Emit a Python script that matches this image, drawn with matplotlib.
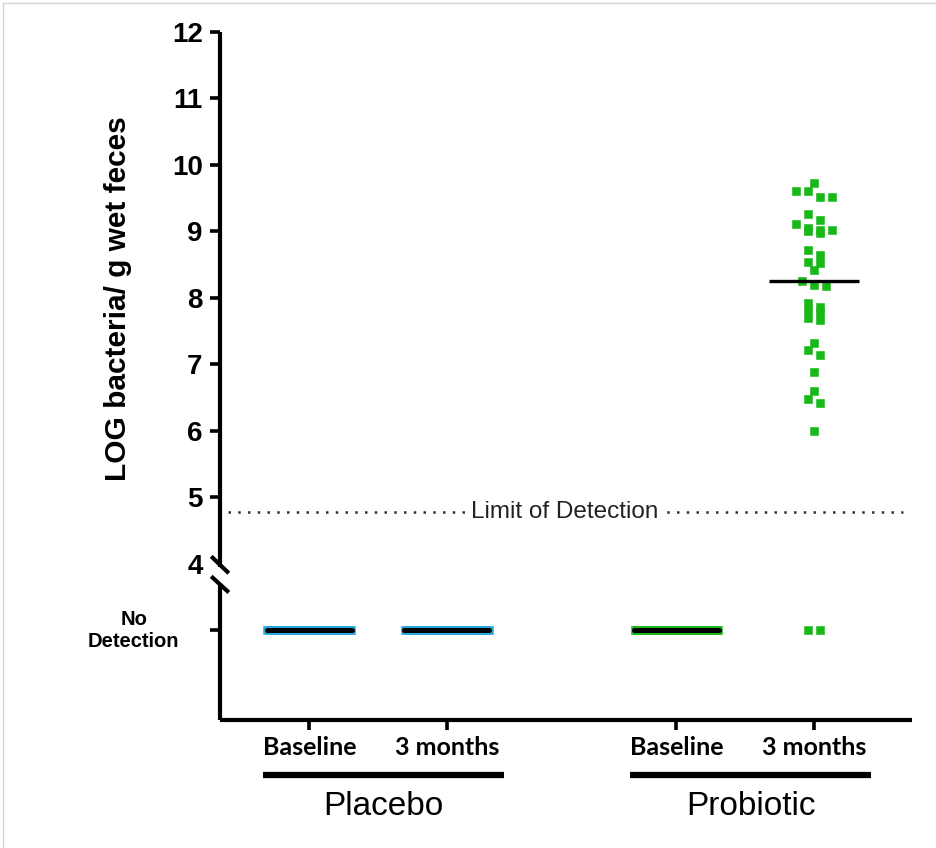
import numpy as np
import matplotlib
matplotlib.use("Agg")
import matplotlib.pyplot as plt
import matplotlib.transforms as mtransforms
from matplotlib.lines import Line2D

plt.rcParams["font.family"] = ["Liberation Sans", "DejaVu Sans"]

# ---------------------------------------------------------------- data
groups = ["Placebo", "Probiotic"]
timepoints = ["Baseline", "3 months"]

# LOG bacteria per g wet feces for each subject; None = not detected
placebo_baseline = [None] * 36
placebo_3months = [None] * 36
probiotic_baseline = [None] * 37
probiotic_3months = [
    9.73, 9.61, 9.61, 9.52, 9.52, 9.26, 9.17, 9.11, 9.05, 9.02, 9.02, 9.01,
    8.98, 8.72, 8.65, 8.54, 8.53, 8.42, 8.26, 8.20, 8.18,
    7.92, 7.86, 7.82, 7.77, 7.70, 7.67,
    7.32, 7.22, 7.14, 6.89, 6.60, 6.48, 6.42, 6.00,
    None, None,
]
limit_of_detection = 4.78
ytick_values = [4, 5, 6, 7, 8, 9, 10, 11, 12]
nd_label = "No\nDetection"
lod_label = "Limit of Detection"
ylabel = "LOG bacteria/ g wet feces"

# ---------------------------------------------------------------- layout
series = [placebo_baseline, placebo_3months, probiotic_baseline, probiotic_3months]
x_pos = [1.0, 2.0, 3.67, 4.67]
colors = ["#27a7de", "#27a7de", "#17b817", "#17b817"]
ND_ROW = 3.0          # vertical position of the "No Detection" row
STEP = 0.088          # horizontal spacing between neighbouring points
ROW_H = 0.09          # values closer than this share a swarm row
MAX_HALF = 0.305      # widest half-spread of a swarm row
LINE_HALF = 0.33      # half width of the median line


def swarm_offsets(y, step, row_h, max_half):
    order = np.argsort(-y, kind="stable")
    offs = np.zeros(len(y))
    i = 0
    while i < len(order):
        j = i
        while j + 1 < len(order) and y[order[i]] - y[order[j + 1]] < row_h:
            j += 1
        row = order[i:j + 1]
        n = len(row)
        if n > 1:
            half = min((n - 1) * step / 2, max_half)
            offs[row] = np.linspace(-half, half, n)
        i = j + 1
    return offs


fig = plt.figure(figsize=(9.36, 8.48), dpi=100)
ax = fig.add_axes([220 / 936, 128 / 848, 692 / 936, 688 / 848])
ax.set_xlim(0.35, 5.383)
ax.set_ylim(1.65, 12.0)

for vals, xc, col in zip(series, x_pos, colors):
    raw = np.array([-np.inf if v is None else v for v in vals], dtype=float)
    y = np.where(np.isfinite(raw), raw, ND_ROW)
    dx = swarm_offsets(y, STEP, ROW_H, MAX_HALF)
    ax.scatter(xc + dx, y, marker="s", s=38, color=col, linewidths=0.4,
               edgecolors=col, zorder=3, clip_on=False)
    med = np.median(np.sort(raw))
    if np.isfinite(med):
        ax.plot([xc - LINE_HALF, xc + LINE_HALF], [med, med], color="black",
                lw=2.4, solid_capstyle="butt", zorder=4)
    else:
        ax.plot([xc - LINE_HALF + 0.02, xc + LINE_HALF - 0.02], [ND_ROW, ND_ROW],
                color="black", lw=3.6, solid_capstyle="round", zorder=4)

# limit of detection
ax.plot([0.411, 5.32], [limit_of_detection] * 2, color="#303030", lw=1.8,
        ls=(0, (1, 2.9)), zorder=2, clip_on=False)
ax.text(2.855, limit_of_detection, lod_label, ha="center", va="center",
        fontsize=17.5, color="#222222", zorder=5,
        bbox=dict(facecolor="white", edgecolor="none", pad=3))

# axes styling
for side in ["top", "right", "left"]:
    ax.spines[side].set_visible(False)
ax.spines["bottom"].set_linewidth(3.0)
ax.spines["bottom"].set_capstyle("butt")

ax.set_yticks(ytick_values + [ND_ROW])
ax.set_yticklabels([str(v) for v in ytick_values] + [""])
ax.tick_params(axis="y", direction="out", length=7.5, width=2.6, pad=5,
               labelsize=20)
for lab in ax.get_yticklabels():
    lab.set_fontweight("bold")
ax.yaxis.get_major_ticks()[0].tick1line.set_visible(False)

ax.set_xticks(x_pos)
ax.set_xticklabels(timepoints * 2, fontfamily="Lato", fontweight="bold",
                   fontsize=18)
ax.tick_params(axis="x", direction="out", length=7.5, width=2.6, pad=4)

# broken y axis: two spine segments with slashes
yax = mtransforms.blended_transform_factory(ax.transAxes, ax.transData)
for y0, y1 in [(12.0, 3.95), (3.70, 1.65)]:
    ax.add_line(Line2D([0, 0], [y0, y1], transform=yax, color="black",
                       lw=3.0, solid_capstyle="butt", clip_on=False))
for y0, y1 in [(4.09, 3.88), (3.79, 3.59)]:
    ax.add_line(Line2D([-0.0105, 0.0105], [y0, y1], transform=yax,
                       color="black", lw=3.0, clip_on=False))

ax.text(-0.1245, ND_ROW, nd_label, transform=yax, ha="center", va="center",
        multialignment="center", fontsize=14.5, fontweight="bold",
        linespacing=1.2)
ax.text(-0.147, 0.613, ylabel, transform=ax.transAxes, rotation=90,
        ha="center", va="center", fontsize=21.5, fontweight="bold")

# group brackets under the time points
xax = mtransforms.blended_transform_factory(ax.transData, ax.transAxes)
for g, (a, b) in zip(groups, [(x_pos[0], x_pos[1]), (x_pos[2], x_pos[3])]):
    left, right = a - 0.335, b + 0.418
    ax.add_line(Line2D([left, right], [-0.08, -0.08], transform=xax,
                       color="black", lw=4.5, solid_capstyle="butt",
                       clip_on=False))
    ax.text((left + right) / 2, -0.126, g, transform=xax, ha="center",
            va="center", fontsize=24)

# thin frame around the picture
fig.add_artist(Line2D([3 / 936, 1], [1 - 3 / 848] * 2, transform=fig.transFigure,
                      color="#d4d4d4", lw=1))
fig.add_artist(Line2D([3 / 936] * 2, [0, 1 - 3 / 848], transform=fig.transFigure,
                      color="#d4d4d4", lw=1))

fig.savefig("out.png", dpi=100, facecolor="white")
